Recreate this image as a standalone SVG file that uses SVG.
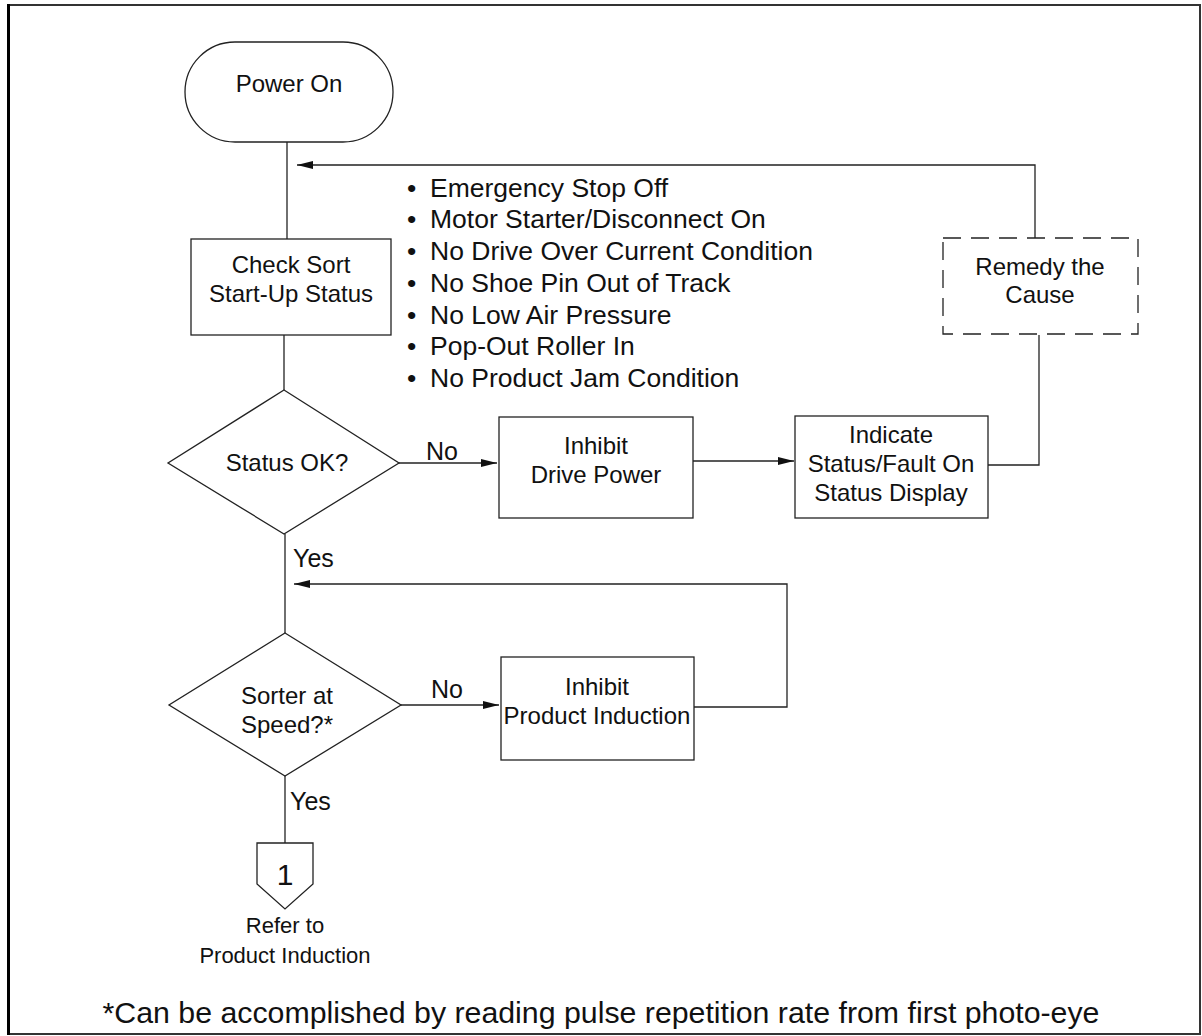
<svg xmlns="http://www.w3.org/2000/svg" width="1202" height="1036" viewBox="0 0 1202 1036">
<style>
.s{fill:#fff;stroke:#222;stroke-width:1.3}
.d{fill:none;stroke:#222;stroke-width:1.3;stroke-dasharray:18,10}
.c{fill:none;stroke:#222;stroke-width:1.3}
text{font-family:"Liberation Sans",Arial,sans-serif;fill:#111}
.t{font-size:24px;text-anchor:middle}
.b{font-size:26.5px}
.l{font-size:25px}
</style>
<defs>
<marker id="ah" viewBox="0 0 16 8" refX="16" refY="4" markerWidth="16" markerHeight="8" markerUnits="userSpaceOnUse" orient="auto">
<path d="M0,0 L16,4 L0,8 Z" fill="#111"/>
</marker>
</defs>
<rect x="8" y="5" width="1192" height="1029" fill="#fff" stroke="#333" stroke-width="2"/>
<line x1="8.5" y1="4" x2="8.5" y2="1035" stroke="#000" stroke-width="3"/>
<g id="connectors">
<path class="c" d="M287,142 V239"/>
<path class="c" d="M1035,238 V165 H297" marker-end="url(#ah)"/>
<path class="c" d="M284,335 V390"/>
<path class="c" d="M399,463 H497" marker-end="url(#ah)"/>
<path class="c" d="M693,461 H794" marker-end="url(#ah)"/>
<path class="c" d="M988,465 H1039 V335"/>
<path class="c" d="M285,534 V633"/>
<path class="c" d="M694,707 H787 V584 H294" marker-end="url(#ah)"/>
<path class="c" d="M401,705 H499" marker-end="url(#ah)"/>
<path class="c" d="M285,776 V843"/>
<text class="l" x="426" y="460">No</text>
<text class="l" x="293" y="567">Yes</text>
<text class="l" x="431" y="698">No</text>
<text class="l" x="290" y="810">Yes</text>
</g>
<g id="power-on">
<rect class="s" x="185" y="42" width="208" height="100" rx="50" ry="50"/>
<text class="t" x="289" y="92">Power On</text>
</g>
<g id="check-sort">
<rect class="s" x="191" y="239" width="200" height="96"/>
<text class="t" x="291" y="273">Check Sort</text>
<text class="t" x="291" y="302">Start-Up Status</text>
</g>
<g id="conditions">
<text class="b"><tspan x="407" y="197">•</tspan><tspan x="430">Emergency Stop Off</tspan></text>
<text class="b"><tspan x="407" y="228">•</tspan><tspan x="430">Motor Starter/Disconnect On</tspan></text>
<text class="b"><tspan x="407" y="260">•</tspan><tspan x="430">No Drive Over Current Condition</tspan></text>
<text class="b"><tspan x="407" y="292">•</tspan><tspan x="430">No Shoe Pin Out of Track</tspan></text>
<text class="b"><tspan x="407" y="324">•</tspan><tspan x="430">No Low Air Pressure</tspan></text>
<text class="b"><tspan x="407" y="355">•</tspan><tspan x="430">Pop-Out Roller In</tspan></text>
<text class="b"><tspan x="407" y="387">•</tspan><tspan x="430">No Product Jam Condition</tspan></text>
</g>
<g id="status-ok">
<polygon class="s" points="284,390 399,463 284,534 168,463"/>
<text class="t" x="287" y="471">Status OK?</text>
</g>
<g id="inhibit-drive">
<rect class="s" x="499" y="417" width="194" height="101"/>
<text class="t" x="596" y="454">Inhibit</text>
<text class="t" x="596" y="483">Drive Power</text>
</g>
<g id="indicate">
<rect class="s" x="795" y="416" width="193" height="102"/>
<text class="t" x="891" y="443">Indicate</text>
<text class="t" x="891" y="472">Status/Fault On</text>
<text class="t" x="891" y="501">Status Display</text>
</g>
<g id="remedy">
<rect class="d" x="943" y="238" width="195" height="96"/>
<text class="t" x="1040" y="275">Remedy the</text>
<text class="t" x="1040" y="303">Cause</text>
</g>
<g id="sorter-speed">
<polygon class="s" points="285,633 401,705 285,776 169,705"/>
<text class="t" x="287" y="704">Sorter at</text>
<text class="t" x="287" y="733">Speed?*</text>
</g>
<g id="inhibit-induction">
<rect class="s" x="501" y="657" width="193" height="103"/>
<text class="t" x="597" y="695">Inhibit</text>
<text class="t" x="597" y="724">Product Induction</text>
</g>
<g id="offpage-1">
<polygon class="s" points="257,843 313,843 313,884 285,909 257,884"/>
<text class="t" x="285" y="885" style="font-size:30px">1</text>
<text class="t" x="285" y="933" style="font-size:22px">Refer to</text>
<text class="t" x="285" y="963" style="font-size:22px">Product Induction</text>
</g>
<text x="601" y="1023" style="font-size:30.3px;text-anchor:middle">*Can be accomplished by reading pulse repetition rate from first photo-eye</text>
</svg>
